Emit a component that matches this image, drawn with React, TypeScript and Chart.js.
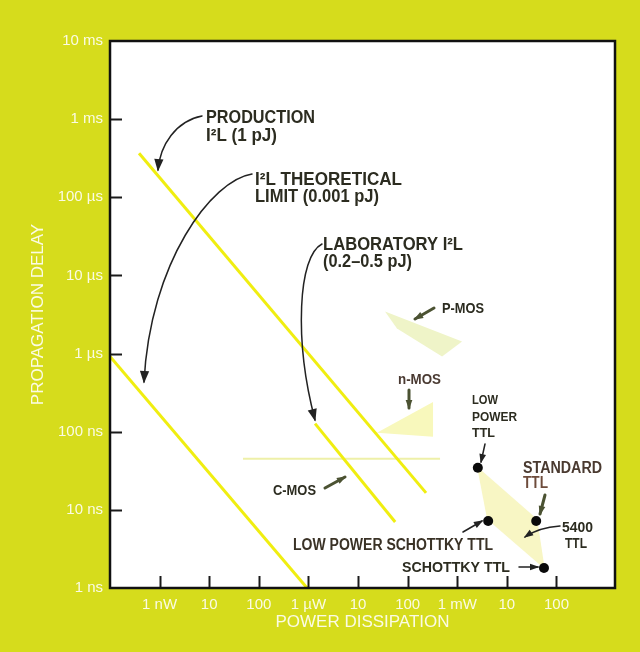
import React, { useEffect, useRef } from 'react';
import { Chart, registerables } from 'chart.js';

Chart.register(...registerables);

// ---------- data ----------
const X_TICKS = [1e-9, 1e-8, 1e-7, 1e-6, 1e-5, 1e-4, 1e-3, 1e-2, 1e-1];
const X_TICK_LABELS = ['1 nW', '10', '100', '1 \u00b5W', '10', '100', '1 mW', '10', '100'];
const Y_TICKS = [1e-9, 1e-8, 1e-7, 1e-6, 1e-5, 1e-4, 1e-3, 1e-2];
const Y_TICK_LABELS = ['1 ns', '10 ns', '100 ns', '1 \u00b5s', '10 \u00b5s', '100 \u00b5s', '1 ms', '10 ms'];

// power (W) / delay (s)
const productionI2L = [{ x: 3.85e-10, y: 3.66e-4 }, { x: 2.35e-4, y: 1.65e-8 }];
const laboratoryI2L = [{ x: 1.36e-6, y: 1.27e-7 }, { x: 5.6e-5, y: 7.0e-9 }];
const theoreticalI2L = [{ x: 1e-10, y: 9.2e-7 }, { x: 9.4e-7, y: 1e-9 }];
const cmosLine = [{ x: 4.8e-8, y: 4.5e-8 }, { x: 4.5e-4, y: 4.5e-8 }];

const pmosRegion = [
  { x: 3.5e-5, y: 3.45e-6 }, { x: 1.25e-3, y: 1.43e-6 }, { x: 4.94e-4, y: 9.2e-7 },
  { x: 6.1e-5, y: 2.1e-6 }, { x: 3.5e-5, y: 3.45e-6 },
];
const nmosRegion = [
  { x: 2.4e-5, y: 9.7e-8 }, { x: 3.25e-4, y: 2.4e-7 }, { x: 3.25e-4, y: 8.6e-8 }, { x: 2.4e-5, y: 9.7e-8 },
];
const ttlRegion = [
  { x: 2.5e-3, y: 3.6e-8 }, { x: 4.0e-3, y: 7.6e-9 }, { x: 5.8e-2, y: 1.75e-9 },
  { x: 4.1e-2, y: 7.6e-9 }, { x: 2.5e-3, y: 3.6e-8 },
];
const ttlFamilies = ['LOW POWER TTL', 'LOW POWER SCHOTTKY TTL', 'STANDARD TTL', 'SCHOTTKY TTL'];
const ttlPower = [2.6e-3, 4.2e-3, 3.9e-2, 5.6e-2];
const ttlDelay = [3.45e-8, 7.2e-9, 7.2e-9, 1.8e-9];

// ---------- styles ----------
const BG = '#d6dc1c';
const TICK_COLOR = '#fbfbe4';
const TEXT = '#2c2c20';
const OLIVE = '#4b5232';
const LINE_YELLOW = '#f0ee10';
const TICK_FONT = "'Liberation Sans', Arial, Helvetica, sans-serif";
const ANN_FONT = "'Liberation Sans', Arial, Helvetica, sans-serif";

type Label = { text: string; x: number; y: number; size: number; w: number; color?: string };
const LABELS: Label[] = [
  { text: 'PRODUCTION', x: 206, y: 123, size: 18, w: 109 },
  { text: 'I\u00b2L (1 pJ)', x: 206, y: 141, size: 18, w: 71 },
  { text: 'I\u00b2L THEORETICAL', x: 255, y: 185, size: 18, w: 147 },
  { text: 'LIMIT (0.001 pJ)', x: 255, y: 202, size: 18, w: 124 },
  { text: 'LABORATORY I\u00b2L', x: 323, y: 250, size: 18, w: 140 },
  { text: '(0.2\u20130.5 pJ)', x: 323, y: 267, size: 18, w: 89 },
  { text: 'P-MOS', x: 442, y: 313, size: 15, w: 42 },
  { text: 'n-MOS', x: 398, y: 384, size: 14, w: 43, color: '#4a3a32' },
  { text: 'LOW', x: 472, y: 404, size: 13, w: 26 },
  { text: 'POWER', x: 472, y: 421, size: 13, w: 45 },
  { text: 'TTL', x: 472, y: 437, size: 13, w: 23 },
  { text: 'C-MOS', x: 273, y: 495, size: 15, w: 43 },
  { text: 'STANDARD', x: 523, y: 473, size: 16, w: 79, color: '#4a3a30' },
  { text: 'TTL', x: 523, y: 488, size: 16, w: 25, color: '#6e4c3c' },
  { text: '5400', x: 562, y: 532, size: 14, w: 31 },
  { text: 'TTL', x: 565, y: 548, size: 14, w: 22 },
  { text: 'LOW POWER SCHOTTKY TTL', x: 293, y: 550, size: 16, w: 200, color: '#3a3226' },
  { text: 'SCHOTTKY TTL', x: 402, y: 572, size: 15, w: 108 },
];

type Arrow = { p: number[]; w: number; color: string; head: number };
const ARROWS: Arrow[] = [
  { p: [202, 116, 176, 121, 160, 145, 158, 170], w: 1.5, color: '#222', head: 11 },
  { p: [252, 174, 212, 180, 150, 262, 144, 382], w: 1.5, color: '#222', head: 11 },
  { p: [322, 244, 298, 256, 294, 340, 315, 420], w: 1.5, color: '#222', head: 11 },
  { p: [434, 308, 415, 319], w: 3, color: OLIVE, head: 8 },
  { p: [409, 390, 409, 408], w: 3, color: OLIVE, head: 8 },
  { p: [485, 444, 481, 462], w: 1.5, color: '#222', head: 8 },
  { p: [325, 488, 345, 477], w: 3, color: OLIVE, head: 8 },
  { p: [545, 495, 540, 514], w: 3, color: OLIVE, head: 8 },
  { p: [560, 526, 545, 527, 535, 530, 525, 537], w: 1.5, color: '#222', head: 8 },
  { p: [463, 532, 482, 521], w: 1.5, color: '#222', head: 8 },
  { p: [519, 567, 538, 567], w: 1.5, color: '#222', head: 8 },
];

function drawArrow(ctx: CanvasRenderingContext2D, a: Arrow) {
  const p = a.p;
  let ex: number, ey: number, px: number, py: number;
  ctx.save();
  ctx.strokeStyle = a.color;
  ctx.fillStyle = a.color;
  ctx.lineWidth = a.w;
  ctx.lineCap = 'round';
  ctx.beginPath();
  ctx.moveTo(p[0], p[1]);
  if (p.length === 8) {
    ctx.bezierCurveTo(p[2], p[3], p[4], p[5], p[6], p[7]);
    ex = p[6]; ey = p[7]; px = p[4]; py = p[5];
  } else {
    ctx.lineTo(p[2], p[3]);
    ex = p[2]; ey = p[3]; px = p[0]; py = p[1];
  }
  ctx.stroke();
  const ang = Math.atan2(ey - py, ex - px);
  const L = a.head;
  const W = a.head * 0.42;
  const bx = ex - L * Math.cos(ang);
  const by = ey - L * Math.sin(ang);
  ctx.beginPath();
  ctx.moveTo(ex + 1.5 * Math.cos(ang), ey + 1.5 * Math.sin(ang));
  ctx.lineTo(bx + W * Math.sin(ang), by - W * Math.cos(ang));
  ctx.lineTo(bx - W * Math.sin(ang), by + W * Math.cos(ang));
  ctx.closePath();
  ctx.fill();
  ctx.restore();
}

function drawLabel(ctx: CanvasRenderingContext2D, l: Label) {
  ctx.save();
  ctx.font = `bold ${l.size}px ${ANN_FONT}`;
  ctx.fillStyle = l.color || TEXT;
  ctx.textAlign = 'left';
  ctx.textBaseline = 'alphabetic';
  const m = ctx.measureText(l.text).width || 1;
  ctx.translate(l.x, l.y);
  ctx.scale(l.w / m, 1);
  ctx.fillText(l.text, 0, 0);
  ctx.restore();
}

const framePlugin = {
  id: 'frame',
  beforeDraw(chart: any) {
    const { ctx, width, height, chartArea: a } = chart;
    ctx.save();
    ctx.fillStyle = BG;
    ctx.fillRect(0, 0, width, height);
    ctx.fillStyle = '#ffffff';
    ctx.fillRect(a.left, a.top, a.right - a.left, a.bottom - a.top);
    ctx.restore();
  },
  afterDatasetsDraw(chart: any) {
    const { ctx, chartArea: a, scales } = chart;
    ctx.save();
    ctx.strokeStyle = '#1a1a1a';
    ctx.lineWidth = 2;
    Y_TICKS.slice(1, -1).forEach((v) => {
      const y = Math.round(scales.y.getPixelForValue(v)) + 0.5;
      ctx.beginPath();
      ctx.moveTo(a.left, y);
      ctx.lineTo(a.left + 12, y);
      ctx.stroke();
    });
    X_TICKS.forEach((v) => {
      const x = Math.round(scales.x.getPixelForValue(v)) + 0.5;
      ctx.beginPath();
      ctx.moveTo(x, a.bottom);
      ctx.lineTo(x, a.bottom - 12);
      ctx.stroke();
    });
    ctx.lineWidth = 2.5;
    ctx.strokeStyle = '#111';
    ctx.strokeRect(a.left, a.top, a.right - a.left, a.bottom - a.top);
    ctx.restore();
    ARROWS.forEach((ar) => drawArrow(ctx, ar));
    LABELS.forEach((l) => drawLabel(ctx, l));
  },
};

export default function App() {
  const ref = useRef<HTMLCanvasElement>(null);
  useEffect(() => {
    const canvas = ref.current!;
    const lineDs = (label: string, data: any[], color: string, width: number) => ({
      label, data, showLine: true, borderColor: color, borderWidth: width,
      pointRadius: 0, fill: false, order: 2,
    });
    const regionDs = (label: string, data: any[], color: string) => ({
      label, data, showLine: true, borderColor: 'rgba(0,0,0,0)', borderWidth: 0,
      backgroundColor: color, pointRadius: 0, fill: 'shape', tension: 0, order: 3,
    });
    const chart = new Chart(canvas, {
      type: 'scatter',
      data: {
        datasets: [
          {
            label: 'TTL families',
            data: ttlFamilies.map((_, i) => ({ x: ttlPower[i], y: ttlDelay[i] })),
            pointRadius: 5, pointBackgroundColor: '#0a0a0a', pointBorderColor: '#0a0a0a',
            pointBorderWidth: 0, showLine: false, order: 1,
          } as any,
          lineDs('Production I2L (1 pJ)', productionI2L, LINE_YELLOW, 3),
          lineDs('Laboratory I2L (0.2-0.5 pJ)', laboratoryI2L, LINE_YELLOW, 3),
          lineDs('I2L theoretical limit (0.001 pJ)', theoreticalI2L, LINE_YELLOW, 3),
          lineDs('C-MOS', cmosLine, '#eef0a8', 2),
          regionDs('P-MOS', pmosRegion, '#eff4c8'),
          regionDs('n-MOS', nmosRegion, '#f8f8bc'),
          regionDs('TTL', ttlRegion, '#f8f6c4'),
        ] as any,
      },
      options: {
        animation: false,
        responsive: false,
        devicePixelRatio: 1,
        layout: { padding: { left: 0, top: 41, right: 25, bottom: 0 } },
        plugins: { legend: { display: false }, tooltip: { enabled: false } },
        scales: {
          x: {
            type: 'logarithmic',
            position: 'bottom',
            bounds: 'data',
            min: 1e-10,
            max: Math.pow(10, 0.18),
            grid: { display: false, drawTicks: false },
            border: { display: false },
            afterBuildTicks: (s: any) => { s.ticks = X_TICKS.map((v) => ({ value: v })); },
            afterFit: (s: any) => { s.height = 64; },
            ticks: {
              color: TICK_COLOR,
              font: { family: TICK_FONT, size: 15 },
              padding: 8,
              maxRotation: 0,
              autoSkip: false,
              callback: (_v: any, i: number) => X_TICK_LABELS[i],
            },
            title: {
              display: true,
              text: 'POWER DISSIPATION',
              color: TICK_COLOR,
              font: { family: TICK_FONT, size: 17 },
              padding: { top: 19, bottom: 19 },
            },
          },
          y: {
            type: 'logarithmic',
            position: 'left',
            bounds: 'data',
            min: 1e-9,
            max: 1e-2,
            grid: { display: false, drawTicks: false },
            border: { display: false },
            afterBuildTicks: (s: any) => { s.ticks = Y_TICKS.map((v) => ({ value: v })); },
            afterFit: (s: any) => { s.width = 110; },
            ticks: {
              color: TICK_COLOR,
              font: { family: TICK_FONT, size: 15 },
              padding: 7,
              autoSkip: false,
              callback: (_v: any, i: number) => Y_TICK_LABELS[i],
            },
            title: {
              display: true,
              text: 'PROPAGATION DELAY',
              color: TICK_COLOR,
              font: { family: TICK_FONT, size: 17 },
              padding: { top: 28, bottom: 28 },
            },
          },
        },
      } as any,
      plugins: [framePlugin],
    });
    return () => chart.destroy();
  }, []);
  return (
    <div style={{ position: 'absolute', left: 0, top: 0, width: 640, height: 652 }}>
      <canvas ref={ref} width={640} height={652} style={{ display: 'block' }} />
    </div>
  );
}
